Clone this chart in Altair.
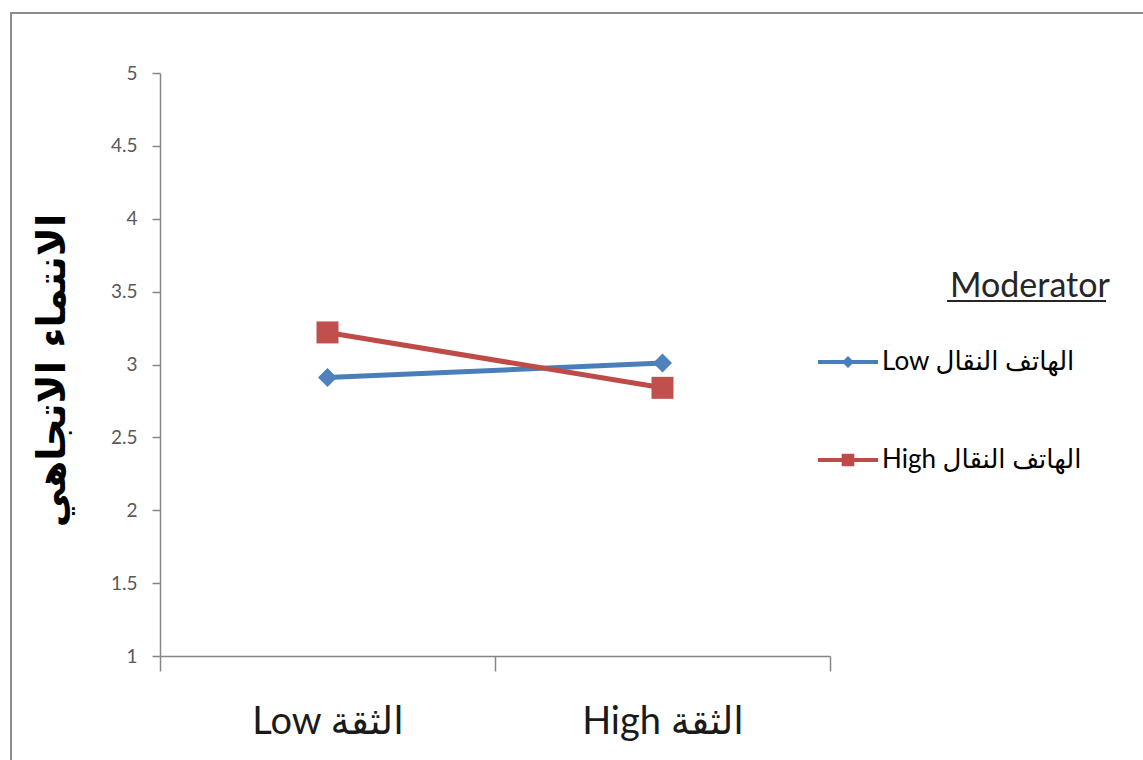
import altair as alt
import pandas as pd

# ---- data ----
categories = ["Low الثقة", "High الثقة"]
series_names = ["Low الهاتف النقال", "High الهاتف النقال"]
low_values = [2.91, 3.01]
high_values = [3.22, 2.84]
y_ticks = [1, 1.5, 2, 2.5, 3, 3.5, 4, 4.5, 5]
y_title = "الانتماء الاتجاهي"
legend_title = "Moderator"

line_colors = ["#4A7EBB", "#BE4B48"]
marker_colors = ["#4F81BD", "#C0504D"]
marker_shapes = ["diamond", "square"]
marker_sizes = [361, 484]

rows = []
for s, vals in zip(series_names, [low_values, high_values]):
    for c, v in zip(categories, vals):
        rows.append({"cat": c, "series": s, "value": v})
df = pd.DataFrame(rows)

FONT = "Lato, DejaVu Sans, sans-serif"
AXIS_GRAY = "#868686"

x_enc = alt.X(
    "cat:N",
    sort=categories,
    bandPosition=0.5,
    scale=alt.Scale(type="band", domain=categories, paddingInner=0, paddingOuter=0),
    axis=alt.Axis(
        title=None, labelAngle=0, tickBand="extent", tickSize=15,
        tickColor=AXIS_GRAY, domainColor=AXIS_GRAY, domainWidth=1.5, tickWidth=1.5,
        labelFontSize=38, labelColor="#1a1a1a", labelFont=FONT, labelPadding=32,
        grid=False,
    ),
)
y_enc = alt.Y(
    "value:Q",
    scale=alt.Scale(domain=[1, 5], nice=False, zero=False),
    axis=alt.Axis(
        values=y_ticks, format="~g", tickSize=8, labelPadding=15,
        tickColor=AXIS_GRAY, domainColor=AXIS_GRAY, domainWidth=1.5, tickWidth=1.5,
        labelFontSize=19, labelColor="#595959", labelFont=FONT, grid=False,
        title=y_title, titleFont="DejaVu Sans", titleFontSize=39, titleFontWeight="bold",
        titleColor="#000000", titleAngle=-90, titleX=-108, titleY=297,
        titleAlign="center", titleBaseline="middle",
    ),
)

color_scale = alt.Scale(domain=series_names, range=line_colors)

path_low = "M-1,-0.07L1,-0.07L1,0.07L-1,0.07Z M0,-0.2L0.2,0L0,0.2L-0.2,0Z"
path_high = "M-1,-0.07L1,-0.07L1,0.07L-1,0.07Z M-0.21,-0.21L0.21,-0.21L0.21,0.21L-0.21,0.21Z"

leg = alt.Legend(
    title=legend_title, orient="none", legendX=658, legendY=197,
    titleFont=FONT, titleFontSize=34, titleFontWeight="normal", titleColor="#262626",
    titleAnchor="middle", titleAlign="left", titlePadding=28, titleLimit=400,
    labelFont=FONT, labelFontSize=26, labelColor="#000000", labelOffset=4, labelLimit=400,
    symbolSize=3600, symbolStrokeWidth=0, rowPadding=55, padding=0,
)

base = alt.Chart(df)

frame = alt.Chart(alt.Data(values=[{"k": 1}])).mark_rect(
    fill="transparent", stroke="#8c8c8c", strokeWidth=2
).encode(x=alt.value(-149), x2=alt.value(1000), y=alt.value(-60), y2=alt.value(720))

underline = alt.Chart(alt.Data(values=[{"k": 1}])).mark_rule(
    color="#262626", strokeWidth=2
).encode(x=alt.value(787), x2=alt.value(946), y=alt.value(228))

layers = [frame]
for i, s in enumerate(series_names):
    sub = base.transform_filter(alt.datum.series == s)
    layers.append(sub.mark_line(strokeWidth=5, color=line_colors[i]).encode(x=x_enc, y=y_enc))
for i, s in enumerate(series_names):
    sub = base.transform_filter(alt.datum.series == s)
    layers.append(
        sub.mark_point(shape=marker_shapes[i], filled=True, size=marker_sizes[i],
                       opacity=1, color=marker_colors[i]).encode(x=x_enc, y=y_enc)
    )

legend_layer = base.transform_filter("false").mark_point(
    filled=True, opacity=1, size=3600
).encode(
    color=alt.Color("series:N", scale=color_scale, legend=leg),
    shape=alt.Shape("series:N", scale=alt.Scale(domain=series_names, range=[path_low, path_high]), legend=leg),
)
layers.append(legend_layer)
layers.append(underline)

chart = alt.layer(*layers).properties(
    width=670, height=583,
    padding={"left": 160, "top": 73, "right": 313, "bottom": 104},
    autosize=alt.AutoSizeParams(type="none"),
    background="white",
).configure_view(stroke="transparent")

chart.save("out.html", embed_options={"renderer": "svg", "actions": False})
